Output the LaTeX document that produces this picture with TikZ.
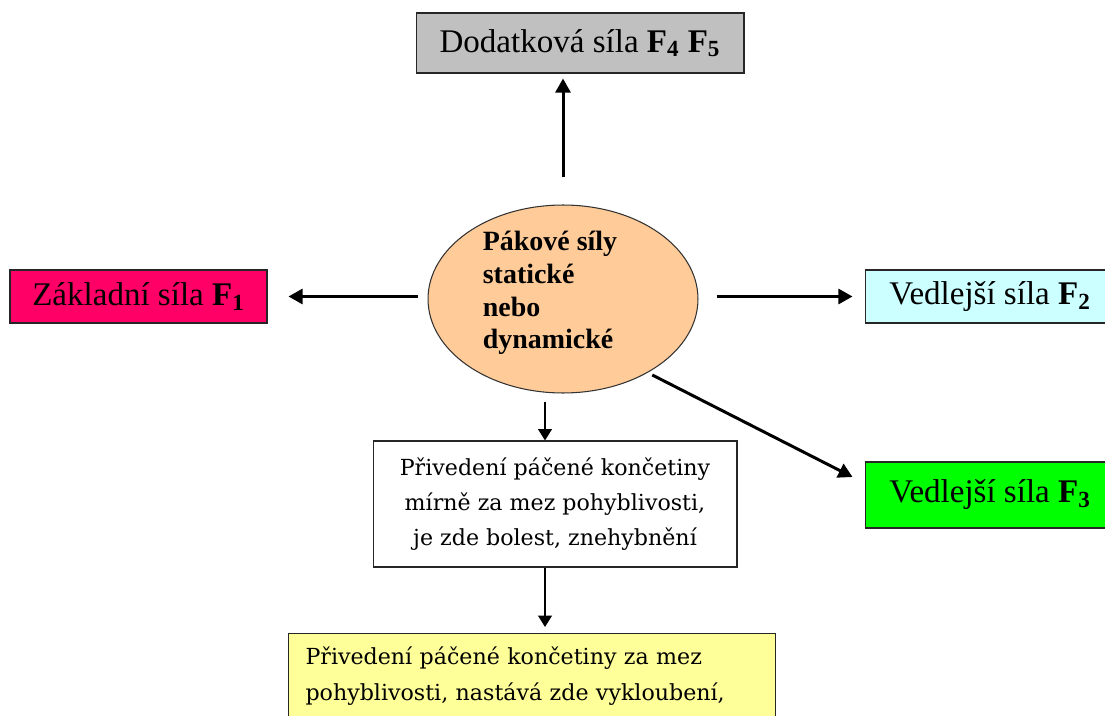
\documentclass[tikz,border=0pt]{standalone}
\usepackage{fontspec}
\setmainfont{Liberation Serif}
\newfontfamily\slabfont{DejaVu Serif}
\usetikzlibrary{arrows.meta, calc, positioning, shapes.geometric}
\def\Fs#1{\textbf{F\textsubscript{#1}}}

\begin{document}
\begin{tikzpicture}[x=0.02cm, y=-0.02cm,
    silabox/.style={draw=black!85, line width=0.6pt, inner sep=0pt, minimum height=1.06cm, font=\fontsize{18.8}{22}\selectfont},
    popbox/.style={draw=black!85, line width=0.6pt, align=center, font=\slabfont\fontsize{12.6}{19.8}\selectfont},
    sipka/.style={line width=1.7pt, -{Triangle[length=8pt, width=8.5pt]}},
    tenka/.style={line width=1.1pt, -{Triangle[length=6.5pt, width=7.8pt]}}]
  \useasboundingbox (0,0) rectangle (1105,716);
  \clip (0,0) rectangle (1105,716);
  % Center
  \node[ellipse, draw=black!80, line width=0.6pt, fill={rgb,255:red,255;green,204;blue,153}, minimum width=5.4cm, minimum height=3.76cm] (paka) at (563,299) {};
  \node[align=left, inner sep=0pt, font=\bfseries\fontsize{15.9}{18.7}\selectfont] (pakatext) at (550,293) {Pákové síly\\statické\\nebo\\dynamické};
  % Forces
  \node[silabox, fill={rgb,255:red,192;green,192;blue,192}, minimum width=6.56cm, minimum height=1.2cm] (dod) at (580,43) {Dodatková síla \Fs{4} \Fs{5}};
  \node[silabox, fill={rgb,255:red,255;green,0;blue,102}, minimum width=5.14cm] (zak) at (138.5,296.5) {Základní síla \Fs{1}};
  \node[silabox, fill={rgb,255:red,204;green,255;blue,255}, minimum width=5cm] (ved2) at (990,296.5) {Vedlejší síla \Fs{2}};
  \node[silabox, fill={rgb,255:red,0;green,255;blue,0}, minimum width=5cm, minimum height=1.32cm] (ved3) at (990,495) {Vedlejší síla \Fs{3}};
  % Consequences
  \node[popbox, fill=white, minimum width=7.28cm, minimum height=2.52cm] (pri) at (555,504) {Přivedení páčené končetiny\\mírně za mez pohyblivosti,\\je zde bolest, znehybnění};
  \node[popbox, align=left, anchor=north west, fill={rgb,255:red,255;green,255;blue,153}, text width=9.06cm, inner xsep=0.34cm, inner ysep=0.26cm, font=\slabfont\fontsize{12.6}{20.8}\selectfont] (vyk) at (288,633) {Přivedení páčené končetiny za mez\\pohyblivosti, nastává zde vykloubení,\\ \mbox{}\\ \mbox{}};
  \coordinate (stred) at ($(pri.north)+(-10,0)$);
  \coordinate (hrot) at ($(ved3.west)+(-12,-18)$);
  % Arrows
  \draw[sipka, shorten <=0.54cm, shorten >=0.1cm] (paka.north) -- (paka.north |- dod.south);
  \draw[sipka, shorten <=0.2cm, shorten >=0.42cm] (paka.west |- zak.east) -- (zak.east);
  \draw[sipka, shorten <=0.36cm, shorten >=0.24cm] (paka.east |- ved2.west) -- (ved2.west);
  \draw[sipka, shorten <=0.1cm] (paka.-41) -- (hrot);
  \draw[tenka, shorten <=0.16cm] (stred |- paka.south) -- (stred);
  \draw[tenka, shorten >=0.12cm] (pri.south -| stred) -- (vyk.north -| stred);
\end{tikzpicture}
\end{document}
